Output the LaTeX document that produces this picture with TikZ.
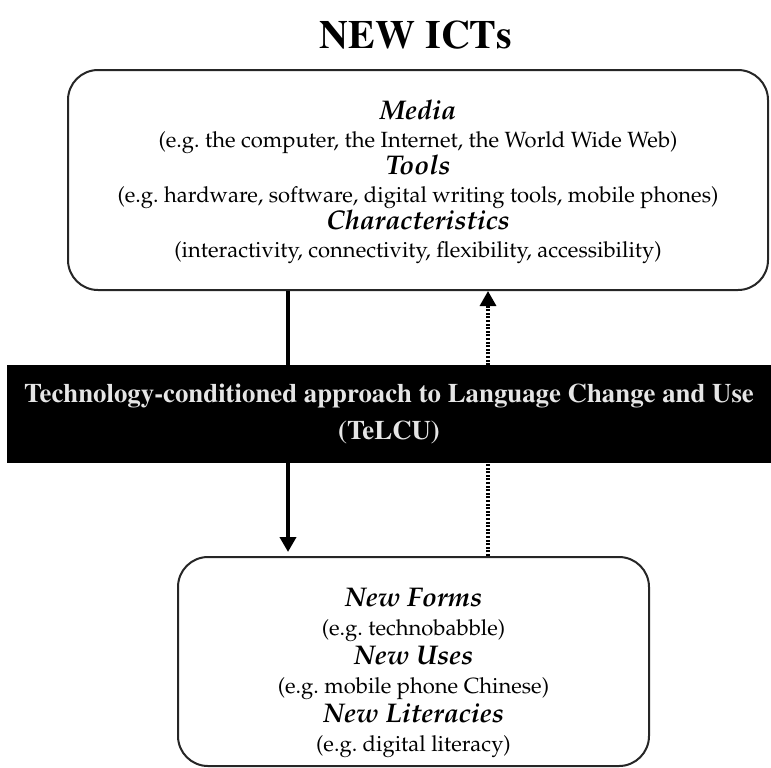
\documentclass[tikz,border=0pt]{standalone}
\usepackage[T1]{fontenc}
\usepackage{mathpazo}
\usetikzlibrary{arrows.meta}
\frenchspacing

\newcommand{\ictfont}{\fontfamily{ptm}\bfseries}
\newcommand{\head}[1]{{\fontsize{13.5}{14}\selectfont\bfseries\itshape #1}}

\tikzset{
  ictbox/.style={draw=black!85, line width=1pt, rounded corners=15pt, fill=white},
  ictlines/.style={align=center, inner sep=0pt, font=\fontsize{11}{#1}\selectfont},
  bandbox/.style={fill=black, text=white!90!black, align=center, inner sep=0pt,
    font=\ictfont\fontsize{13.4}{18.5}\selectfont},
  solidarrow/.style={line width=2.4pt, shorten >=2pt, -{Triangle[length=7.5pt,width=8pt]}},
  dottedarrow/.style={line width=1.6pt, dash pattern=on 1pt off 0.8pt,
    -{Triangle[length=7.5pt,width=8pt]}},
}

\begin{document}
\begin{tikzpicture}[x=0.5pt,y=-0.5pt]
\useasboundingbox (0,0) rectangle (771,767);

% heading
\node[font=\ictfont\fontsize{20}{24}\selectfont] (title) at (416,35) {NEW ICTs};

% the technologies
\node[ictbox, minimum width=350pt, minimum height=110pt] (icts) at (418,180) {};
\node[ictlines=13.8pt] (ictstext) at (418,182) {%
  \head{Media}\\
  (e.g. the computer, the Internet, the World Wide Web)\\
  \head{Tools}\\
  (e.g. hardware, software, digital writing tools, mobile phones)\\
  \head{Characteristics}\\
  (interactivity, connectivity, flexibility, accessibility)};

% the outcomes
\node[ictbox, minimum width=235.5pt, minimum height=104.5pt] (change) at (413.5,661.5) {};
\node[ictlines=14.5pt] (changetext) at (413.5,673) {%
  \head{New Forms}\\
  (e.g. technobabble)\\
  \head{New Uses}\\
  (e.g. mobile phone Chinese)\\
  \head{New Literacies}\\
  (e.g. digital literacy)};

\coordinate (dn) at (288,0);
\coordinate (up) at (488,0);

\draw[solidarrow] (icts.south -| dn) -- (change.north -| dn);
\draw[dottedarrow] (change.north -| up) -- (icts.south -| up);

% the approach, laid over both arrows
\node[bandbox, minimum width=382pt, minimum height=49pt] (telcu) at (389,414) {%
  Technology-conditioned approach to Language Change and Use\\
  (TeLCU)};

\end{tikzpicture}
\end{document}
